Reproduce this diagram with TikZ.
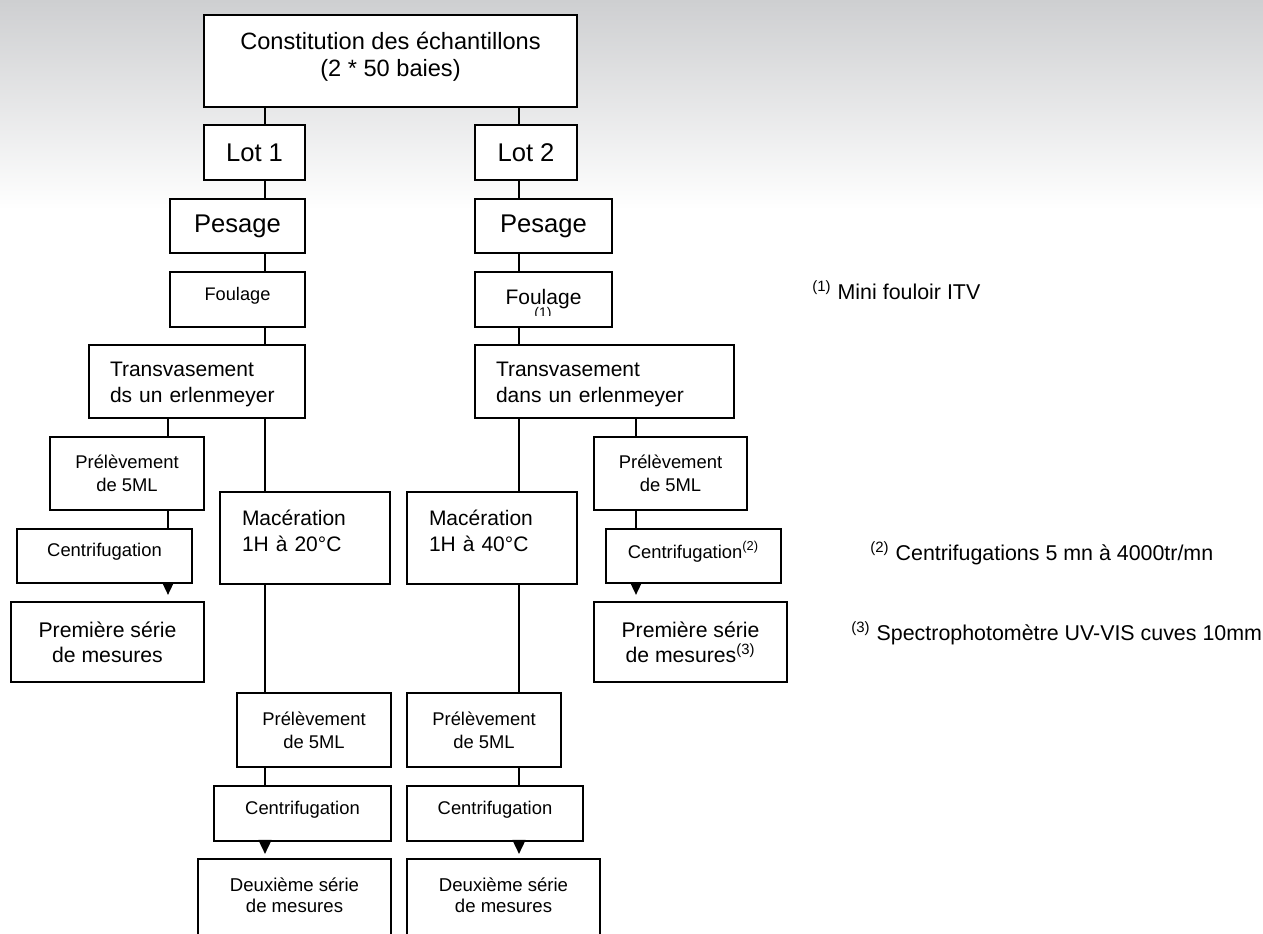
\documentclass[tikz,border=0pt]{standalone}
\usepackage{fontspec}
\setmainfont{Liberation Sans}
\usepackage{tikz}
\usetikzlibrary{positioning, arrows.meta}
\definecolor{fondgris}{RGB}{206,207,209}

\begin{document}
\begin{tikzpicture}[x=0.5pt, y=-0.5pt, on grid,
    etape/.style={draw, fill=white, line width=1.1pt, inner sep=0pt, align=center},
    titre/.style={font=\fontsize{11.8}{13.5}\selectfont},
    grand/.style={font=\fontsize{12.8}{15}\selectfont},
    moyen/.style={font=\fontsize{10.5}{12.8}\selectfont},
    petit/.style={font=\fontsize{9.2}{11.5}\selectfont},
    note/.style={font=\fontsize{10.7}{13}\selectfont, anchor=base west, inner sep=0pt},
    lien/.style={line width=0.8pt},
    fleche/.style={line width=0.8pt, -{Triangle[length=5.5pt, width=5pt]}, shorten >=3pt},
    grandefleche/.style={line width=0.8pt, -{Triangle[length=7pt, width=6.5pt]}, shorten >=2pt}]
            \useasboundingbox (0,0) rectangle (1263,933);
            \shade[top color=fondgris, bottom color=white] (0,0) rectangle (1263,210);

            \node[etape, titre, minimum width=186.5pt, minimum height=46pt, text depth=6.5pt] (const) at (390.5,61) {Constitution des échantillons\\(2 * 50 baies)};
            \node[etape, grand, minimum width=50.5pt, minimum height=27.5pt] (lot1) [below left=45.75pt and 68pt of const] {Lot 1};
            \node[etape, grand, minimum width=51pt, minimum height=27.5pt] (lot2) [below right=45.75pt and 67.75pt of const] {Lot 2};
            \node[etape, grand, minimum width=67.5pt, minimum height=27pt] (pes1) [below left=36.75pt and 8.5pt of lot1] {Pesage};
            \node[etape, grand, minimum width=68.5pt, minimum height=27pt] (pes2) [below right=36.75pt and 8.75pt of lot2] {Pesage};
            \node[etape, font=\fontsize{9.1}{11}\selectfont, minimum width=67.5pt, minimum height=27.5pt, text depth=6pt] (foul1) [below=36.75pt of pes1] {Foulage};
            \node[etape, moyen, minimum width=68.5pt, minimum height=27.5pt] (foul2) [below=36.75pt of pes2] {Foulage};

            % branche du lot 1
            \node[etape, moyen, minimum width=108pt, minimum height=36.5pt, inner xsep=10.5pt, text width=87pt, align=left, text depth=12pt] (trans1) [below left=41pt and 20.25pt of foul1] {Transvasement\\ds un erlenmeyer};
            \node[etape, petit, minimum width=77pt, minimum height=36.5pt] (prel1) [below left=46pt and 35pt of trans1] {Prélèvement\\de 5ML};
            \node[etape, moyen, minimum width=85pt, minimum height=46pt, inner xsep=11pt, text width=63pt, align=left, text depth=20pt] (mac1) [below right=78.25pt and 54pt of trans1] {Macération\\1H à 20°C};
            \node[etape, petit, minimum width=87.5pt, minimum height=27pt, text depth=6pt] (cent1) [below left=41.25pt and 11.25pt of prel1] {Centrifugation};
            \node[etape, font=\fontsize{10.6}{12.5}\selectfont, minimum width=96.5pt, minimum height=40pt] (prem1) [below right=43pt and 1.5pt of cent1] {Première série\\de mesures};
            \node[etape, petit, minimum width=77pt, minimum height=37pt] (prel3) [below right=96pt and 4.5pt of mac1] {Prélèvement\\de 5ML};
            \node[etape, petit, minimum width=88.5pt, minimum height=27.5pt, text depth=6pt] (cent3) [below left=41.75pt and 5.75pt of prel3] {Centrifugation};
            \node[etape, font=\fontsize{9.3}{10.5}\selectfont, minimum width=96.5pt, minimum height=38.5pt, text depth=2pt] (deux1) [below left=42pt and 4pt of cent3] {Deuxième série\\de mesures};

            % branche du lot 2
            \node[etape, moyen, minimum width=129.5pt, minimum height=36.5pt, inner xsep=10.5pt, text width=108.5pt, align=left, text depth=12pt] (trans2) [below right=41pt and 30.5pt of foul2] {Transvasement\\dans un erlenmeyer};
            \node[etape, moyen, minimum width=85pt, minimum height=46pt, inner xsep=11pt, text width=63pt, align=left, text depth=20pt] (mac2) [below left=78.25pt and 56.25pt of trans2] {Macération\\1H à 40°C};
            \node[etape, petit, minimum width=76.5pt, minimum height=36.5pt] (prel2) [below right=46pt and 33pt of trans2] {Prélèvement\\de 5ML};
            \node[etape, petit, minimum width=87.5pt, minimum height=27pt, text depth=6pt] (cent2) [below right=41.25pt and 11.5pt of prel2] {Centrifugation\textsuperscript{(2)}};
            \node[etape, font=\fontsize{10.6}{12.5}\selectfont, minimum width=96.5pt, minimum height=40pt] (prem2) [below left=43pt and 1.5pt of cent2] {Première série\\de mesures\textsuperscript{(3)}};
            \node[etape, petit, minimum width=77pt, minimum height=37pt] (prel4) [below left=96pt and 4pt of mac2] {Prélèvement\\de 5ML};
            \node[etape, petit, minimum width=88pt, minimum height=27.5pt, text depth=6pt] (cent4) [below right=41.75pt and 5.5pt of prel4] {Centrifugation};
            \node[etape, font=\fontsize{9.3}{10.5}\selectfont, minimum width=96.5pt, minimum height=38.5pt, text depth=2pt] (deux2) [below right=42pt and 4.25pt of cent4] {Deuxième série\\de mesures};

            % renvoi coupe sous Foulage
            \begin{scope}
                \clip (foul2.north west) rectangle (612,315);
                \node[font=\fontsize{7}{8}\selectfont, anchor=north, inner sep=0pt] (renvoi1) at (543,307) {(1)};
            \end{scope}

            % notes
            \node[note] (note1) at (812,299) {\textsuperscript{(1)} Mini fouloir ITV};
            \node[note] (note2) at (870,560) {\textsuperscript{(2)} Centrifugations 5 mn à 4000tr/mn};
            \node[note] (note3) at (851,640) {\textsuperscript{(3)} Spectrophotomètre UV-VIS cuves 10mm};

            % colonnes des liens
            \coordinate (c0) at (168,0);
            \coordinate (c1) at (265,0);
            \coordinate (c2) at (519,0);
            \coordinate (c3) at (636,0);

            \path[lien]
                (const.south -| c1) edge (lot1.north -| c1)
                (lot1.south -| c1) edge (pes1.north -| c1)
                (pes1.south -| c1) edge (foul1.north -| c1)
                (foul1.south -| c1) edge (trans1.north -| c1)
                (trans1.south -| c1) edge (mac1.north -| c1)
                (mac1.south -| c1) edge (prel3.north -| c1)
                (prel3.south -| c1) edge (cent3.north -| c1);
            \path[lien]
                (trans1.south -| c0) edge (prel1.north -| c0)
                (prel1.south -| c0) edge (cent1.north -| c0);
            \path[lien]
                (const.south -| c2) edge (lot2.north -| c2)
                (lot2.south -| c2) edge (pes2.north -| c2)
                (pes2.south -| c2) edge (foul2.north -| c2)
                (foul2.south -| c2) edge (trans2.north -| c2)
                (trans2.south -| c2) edge (mac2.north -| c2)
                (mac2.south -| c2) edge (prel4.north -| c2)
                (prel4.south -| c2) edge (cent4.north -| c2);
            \path[lien]
                (trans2.south -| c3) edge (prel2.north -| c3)
                (prel2.south -| c3) edge (cent2.north -| c3);
            \path[fleche]
                (cent1.south -| c0) edge (prem1.north -| c0)
                (cent2.south -| c3) edge (prem2.north -| c3);
            \path[grandefleche]
                (cent3.south -| c1) edge (deux1.north -| c1)
                (cent4.south -| c2) edge (deux2.north -| c2);
        \end{tikzpicture}
\end{document}
